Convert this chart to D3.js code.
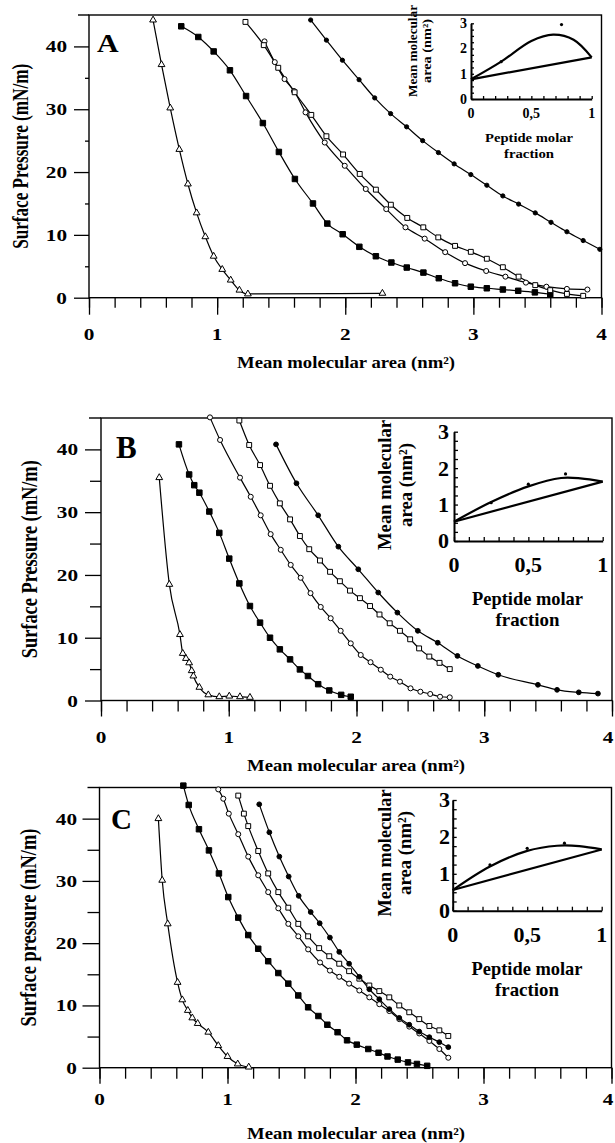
<!DOCTYPE html>
<html>
<head>
<meta charset="utf-8">
<script src="https://cdn.jsdelivr.net/npm/d3@7"></script>
<style>
  body { margin: 0; background: #fff; }
  svg { display: block; }
  text { font-family: "Liberation Serif", "Times New Roman", serif; fill: #000; }
</style>
</head>
<body>
<svg id="fig" width="615" height="1143"></svg>
<script>
// ---- data: [mean molecular area (nm2), surface pressure (mN/m)]
// panel A
const A_tri = [[0.50,44.2],[0.566,37.1],[0.634,30.2],[0.705,23.6],[0.772,18.1],[0.84,13.5],[0.908,9.7],[0.973,6.6],[1.04,4.5],[1.106,2.8],[1.174,1.2],[1.24,0.6],[2.29,0.7]];
const A_fsq = [[0.72,43.2],[0.853,41.5],[0.973,39.2],[1.10,36.2],[1.226,32.1],[1.357,27.8],[1.482,23.2],[1.607,18.9],[1.748,15.0],[1.86,11.8],[1.98,10.1],[2.11,8.1],[2.239,6.6],[2.36,5.6],[2.48,4.8],[2.61,4.0],[2.73,3.1],[2.857,2.3],[2.98,1.75],[3.105,1.5],[3.23,1.3],[3.35,1.1],[3.48,0.85],[3.6,0.55]];
const A_oci = [[1.37,40.8],[1.45,37.5],[1.526,34.8],[1.60,32.9],[1.69,29.5],[1.84,24.7],[1.996,21.0],[2.16,17.3],[2.32,14.1],[2.47,11.2],[2.62,9.4],[2.78,7.25],[2.935,5.5],[3.1,4.25],[3.25,3.35],[3.41,2.4],[3.57,1.75],[3.73,1.4],[3.89,1.3]];
const A_osq = [[1.221,43.9],[1.364,40.2],[1.477,36.6],[1.605,32.7],[1.735,29.1],[1.853,25.7],[1.983,22.8],[2.113,19.7],[2.239,17.2],[2.356,14.8],[2.484,12.7],[2.609,11.2],[2.726,9.6],[2.857,8.25],[2.98,7.3],[3.105,6.2],[3.23,4.85],[3.353,3.35],[3.483,2.0],[3.6,1.2],[3.73,0.6],[3.857,0.3]];
const A_fci = [[1.73,44.2],[1.853,41.0],[1.978,37.8],[2.108,34.7],[2.23,31.8],[2.354,29.3],[2.479,27.2],[2.604,25.0],[2.727,23.1],[2.85,21.3],[2.98,19.6],[3.105,17.9],[3.23,16.2],[3.353,14.9],[3.483,13.5],[3.606,12.0],[3.73,10.5],[3.857,9.1],[3.987,7.7]];

// panel B
const B_tri = [[0.456,35.5],[0.535,18.5],[0.618,10.5],[0.64,7.5],[0.665,6.7],[0.69,6.0],[0.71,4.75],[0.723,3.9],[0.77,2.1],[0.84,0.9],[0.926,0.6],[1.004,0.7],[1.088,0.6],[1.166,0.5]];
const B_fsq = [[0.61,40.8],[0.69,36.0],[0.73,34.3],[0.77,33.1],[0.848,30.1],[0.926,26.7],[1.004,22.6],[1.083,18.65],[1.166,15.05],[1.245,12.4],[1.323,10.0],[1.40,8.15],[1.48,6.55],[1.557,4.95],[1.62,3.9],[1.70,2.6],[1.787,1.6],[1.88,0.9],[1.955,0.6]];
const B_oci = [[0.853,45.1],[0.932,41.5],[1.088,35.5],[1.172,32.45],[1.25,29.5],[1.328,26.5],[1.407,24.0],[1.485,21.6],[1.563,19.55],[1.64,17.1],[1.72,14.9],[1.798,13.1],[1.876,11.1],[1.955,9.1],[2.033,7.25],[2.11,6.1],[2.19,4.9],[2.264,3.8],[2.34,3.0],[2.423,1.94],[2.5,1.4],[2.577,1.04],[2.654,0.6],[2.73,0.5]];
const B_osq = [[1.083,44.6],[1.16,40.7],[1.245,37.5],[1.323,34.2],[1.40,31.4],[1.48,28.85],[1.557,26.2],[1.63,24.1],[1.714,22.3],[1.793,20.5],[1.87,19.0],[1.949,17.5],[2.027,16.3],[2.106,15.05],[2.18,13.7],[2.26,12.3],[2.34,11.1],[2.42,9.75],[2.49,8.3],[2.57,7.0],[2.65,6.0],[2.73,5.0]];
const B_fci = [[1.37,40.8],[1.53,34.6],[1.70,29.5],[1.858,24.5],[2.014,20.9],[2.17,17.2],[2.32,14.0],[2.48,11.1],[2.636,9.2],[2.79,7.1],[2.95,5.5],[3.11,4.1],[3.42,2.5],[3.57,1.7],[3.74,1.3],[3.89,1.1]];

// panel C
const C_tri = [[0.46,40.0],[0.49,30.1],[0.533,23.1],[0.61,13.7],[0.647,10.9],[0.69,9.2],[0.725,8.0],[0.767,7.1],[0.85,5.7],[0.928,3.55],[1.0,1.8],[1.08,0.6],[1.166,0.1]];
const C_fsq = [[0.655,45.3],[0.697,42.2],[0.777,38.3],[0.855,34.9],[0.933,31.2],[1.006,27.4],[1.084,24.1],[1.162,21.3],[1.24,19.1],[1.318,17.1],[1.397,15.2],[1.475,13.5],[1.553,11.6],[1.63,9.7],[1.71,8.3],[1.78,6.9],[1.86,5.7],[1.934,4.4],[2.01,3.7],[2.10,3.0],[2.18,2.4],[2.25,1.8],[2.33,1.3],[2.41,0.85],[2.48,0.6],[2.56,0.3]];
const C_oci = [[0.928,44.7],[0.967,43.2],[1.01,40.8],[1.084,37.5],[1.162,33.9],[1.24,30.9],[1.318,28.2],[1.397,25.6],[1.475,23.1],[1.553,21.1],[1.63,19.0],[1.723,16.9],[1.8,15.6],[1.873,14.6],[1.95,13.5],[2.03,12.4],[2.108,11.3],[2.186,10.2],[2.264,9.1],[2.342,7.8],[2.42,6.6],[2.498,5.5],[2.577,4.3],[2.655,3.0],[2.725,1.6]];
const C_osq = [[1.084,43.7],[1.128,40.8],[1.162,38.8],[1.24,34.8],[1.318,31.2],[1.397,28.2],[1.475,25.7],[1.553,23.1],[1.63,21.1],[1.716,19.2],[1.795,17.9],[1.873,16.7],[1.95,15.5],[2.03,14.3],[2.108,13.2],[2.186,12.3],[2.264,11.3],[2.342,10.0],[2.42,8.9],[2.498,7.8],[2.577,6.7],[2.655,6.0],[2.725,5.1]];
const C_fci = [[1.248,42.3],[1.327,37.8],[1.405,33.9],[1.478,30.7],[1.556,27.6],[1.65,25.0],[1.72,23.2],[1.8,20.9],[1.873,18.6],[1.95,16.7],[2.03,14.6],[2.108,12.6],[2.186,11.0],[2.264,9.4],[2.342,8.0],[2.42,6.9],[2.498,5.8],[2.577,4.9],[2.655,4.1],[2.725,3.3]];

// insets: [peptide molar fraction, mean molecular area (nm2)]
const insA_exp = [[0,0.78],[0.25,1.48],[0.5,2.3],[0.68,2.55],[0.85,2.35],[1,1.65]];
const insA_ideal = [[0,0.78],[1,1.65]];
const insA_dots = [[0.25,1.48],[0.75,2.95]];
const insB_exp = [[0,0.53],[0.25,1.07],[0.5,1.5],[0.72,1.73],[0.85,1.72],[1,1.63]];
const insB_ideal = [[0,0.53],[1,1.63]];
const insB_dots = [[0.25,1.05],[0.5,1.56],[0.75,1.84]];
const insC_exp = [[0,0.56],[0.25,1.2],[0.5,1.62],[0.7,1.76],[0.85,1.75],[1,1.66]];
const insC_ideal = [[0,0.56],[1,1.66]];
const insC_dots = [[0.25,1.24],[0.5,1.69],[0.75,1.83]];

// tick labels
const xTickVals = [0, 1, 2, 3, 4];
const yTickVals = [0, 10, 20, 30, 40];
const insXTicks = [0, 0.5, 1];
const insXLabels = ["0", "0,5", "1"];
const insYTicks = [0, 1, 2, 3];

const svg = d3.select("#fig");
const W = 615;

function addText(g, s, x, y, o) {
  o = o || {};
  var tf = "translate(" + x + "," + y + ")";
  if (o.rot) tf += " rotate(-90)";
  if (o.sx || o.sy) tf += " scale(" + (o.sx || 1) + "," + (o.sy || 1) + ")";
  var t = g.append("text")
    .attr("transform", tf)
    .attr("text-anchor", o.anchor || "middle")
    .attr("font-size", o.size || 17)
    .attr("font-weight", o.weight || "bold")
    .text(s);
  if (o.len) t.attr("textLength", o.len).attr("lengthAdjust", "spacingAndGlyphs");
  return t;
}

const shapes = { tri: d3.symbolTriangle, sq: d3.symbolSquare, ci: d3.symbolCircle };

function drawPanel(p, series) {
  var x = d3.scaleLinear().domain([0, 4]).range([p.left, p.right]);
  var y = d3.scaleLinear().domain([0, 45]).range([p.bottom, p.top]);
  var g = svg.append("g");

  // frame
  g.append("rect").attr("x", p.left).attr("y", p.top)
    .attr("width", p.right - p.left).attr("height", p.bottom - p.top)
    .attr("fill", "none").attr("stroke", "#000").attr("stroke-width", 1.4);
  g.append("line").attr("x1", p.left - p.topExt).attr("x2", p.left)
    .attr("y1", p.top).attr("y2", p.top).attr("stroke", "#000").attr("stroke-width", 1.4);

  // x ticks
  g.append("g").attr("transform", "translate(0," + p.bottom + ")").attr("stroke-width", 1.3)
    .call(d3.axisBottom(x).tickValues(d3.range(0, 4.01, 0.2)).tickSize(p.xMinor).tickSizeOuter(0).tickFormat(""));
  g.append("g").attr("transform", "translate(0," + p.bottom + ")").attr("stroke-width", 1.3)
    .call(d3.axisBottom(x).tickValues(xTickVals).tickSize(p.xMajor).tickSizeOuter(0).tickFormat(""));
  // y ticks
  g.append("g").attr("transform", "translate(" + p.left + ",0)").attr("stroke-width", 1.3)
    .call(d3.axisLeft(y).tickValues([5, 15, 25, 35]).tickSize(p.yMinor).tickSizeOuter(0).tickFormat(""));
  g.append("g").attr("transform", "translate(" + p.left + ",0)").attr("stroke-width", 1.3)
    .call(d3.axisLeft(y).tickValues(yTickVals).tickSize(p.yMajor).tickSizeOuter(0).tickFormat(""));
  g.selectAll(".domain").remove();

  xTickVals.forEach(function (v) {
    // the last label sits on the page edge; keep it inside
    addText(g, String(v), Math.min(x(v), W - 7), p.xLabY, { size: 17, sx: 1.25 });
  });
  yTickVals.forEach(function (v) {
    addText(g, String(v), p.yLabX, y(v) + 6, { size: 17, sx: 1.25, anchor: "end" });
  });

  addText(g, "Mean molecular area (nm²)", p.xTitleX, p.xTitleY, { size: 16, len: 218 });
  addText(g, p.yTitle, p.yTitleX, (p.top + p.bottom) / 2, { rot: true, size: 17, sy: 1.3, len: p.yTitleLen });
  addText(g, p.letter, p.letterX, p.letterY, { size: p.letterSize, anchor: "start", sx: p.letterSx || 1 });

  var line = d3.line().x(function (d) { return x(d[0]); }).y(function (d) { return y(d[1]); })
    .curve(d3.curveMonotoneX);
  series.forEach(function (s) {
    g.append("path").attr("d", line(s.data)).attr("fill", "none")
      .attr("stroke", "#000").attr("stroke-width", 1.2);
  });
  series.forEach(function (s) {
    g.append("g").selectAll("path").data(s.data).join("path")
      .attr("transform", function (d) { return "translate(" + x(d[0]) + "," + y(d[1]) + ")"; })
      .attr("d", d3.symbol(shapes[s.shape], s.size))
      .attr("fill", s.filled ? "#000" : "#fff")
      .attr("stroke", "#000").attr("stroke-width", 1);
  });
}

function drawInset(p, exp, ideal, dots) {
  var x = d3.scaleLinear().domain([0, 1]).range([p.x0, p.x1]);
  var y = d3.scaleLinear().domain([0, 3]).range([p.y0, p.y3]);
  var g = svg.append("g");

  g.append("g").attr("transform", "translate(0," + p.y0 + ")").attr("stroke-width", 1.3)
    .call(d3.axisBottom(x).tickValues(d3.range(0, 1.001, 0.1)).tickSize(-p.tick).tickSizeOuter(0).tickFormat(""));
  g.append("g").attr("transform", "translate(" + p.x0 + ",0)").attr("stroke-width", 1.3)
    .call(d3.axisLeft(y).tickValues(d3.range(0, 3.001, 0.25)).tickSize(-p.tick).tickSizeOuter(0).tickFormat(""));
  g.selectAll(".domain").attr("stroke-width", 2);

  var line = d3.line().x(function (d) { return x(d[0]); }).y(function (d) { return y(d[1]); });
  g.append("path").attr("d", line.curve(d3.curveCatmullRom.alpha(0.5))(exp))
    .attr("fill", "none").attr("stroke", "#000").attr("stroke-width", 2.2);
  g.append("path").attr("d", line.curve(d3.curveLinear)(ideal))
    .attr("fill", "none").attr("stroke", "#000").attr("stroke-width", 2.2);
  g.selectAll("circle").data(dots).join("circle")
    .attr("cx", function (d) { return x(d[0]); }).attr("cy", function (d) { return y(d[1]); })
    .attr("r", 1.6).attr("fill", "#000");

  insXTicks.forEach(function (v, i) {
    addText(g, insXLabels[i], x(v), p.xLabY, { size: p.tickSize });
  });
  insYTicks.forEach(function (v) {
    addText(g, String(v), p.yLabX, y(v) + p.tickSize * 0.34, { size: p.tickSize, anchor: "end" });
  });
  addText(g, "Peptide molar", p.titleCx, p.pepY, { size: p.titleSize, len: p.pepLen });
  addText(g, "fraction", p.titleCx, p.fracY, { size: p.titleSize, len: p.fracLen });
  addText(g, "Mean molecular", p.mmX, p.yCenter, { rot: true, size: p.titleSize, len: p.mmLen });
  addText(g, "area (nm²)", p.arX, p.yCenter, { rot: true, size: p.titleSize, len: p.arLen });
}

drawPanel({
  left: 89, right: 601.5, top: 15, bottom: 297.7,
  xMajor: 17, xMinor: 10, yMajor: 15, yMinor: 4, topExt: 11,
  xLabY: 340, yLabX: 67, xTitleX: 346, xTitleY: 368,
  yTitle: "Surface Pressure (mN/m)", yTitleX: 28, yTitleLen: 185,
  letter: "A", letterX: 97, letterY: 52, letterSize: 26, letterSx: 1.15
}, [
  { data: A_tri, shape: "tri", filled: false, size: 20 },
  { data: A_fsq, shape: "sq", filled: true, size: 30 },
  { data: A_oci, shape: "ci", filled: false, size: 20 },
  { data: A_osq, shape: "sq", filled: false, size: 24 },
  { data: A_fci, shape: "ci", filled: true, size: 14 }
]);

drawPanel({
  left: 101, right: 612, top: 418, bottom: 700.5,
  xMajor: 16, xMinor: 11, yMajor: 16, yMinor: 11, topExt: 12,
  xLabY: 743, yLabX: 78, xTitleX: 356, xTitleY: 771,
  yTitle: "Surface Pressure (mN/m)", yTitleX: 37, yTitleLen: 198,
  letter: "B", letterX: 116, letterY: 458, letterSize: 31
}, [
  { data: B_tri, shape: "tri", filled: false, size: 20 },
  { data: B_fsq, shape: "sq", filled: true, size: 30 },
  { data: B_oci, shape: "ci", filled: false, size: 20 },
  { data: B_osq, shape: "sq", filled: false, size: 24 },
  { data: B_fci, shape: "ci", filled: true, size: 18 }
]);

drawPanel({
  left: 99.5, right: 611.5, top: 787.5, bottom: 1067.7,
  xMajor: 16, xMinor: 11, yMajor: 17, yMinor: 12, topExt: 12,
  xLabY: 1105, yLabX: 77, xTitleX: 356, xTitleY: 1139,
  yTitle: "Surface pressure (mN/m)", yTitleX: 36, yTitleLen: 198,
  letter: "C", letterX: 111, letterY: 829, letterSize: 29
}, [
  { data: C_tri, shape: "tri", filled: false, size: 20 },
  { data: C_fsq, shape: "sq", filled: true, size: 30 },
  { data: C_oci, shape: "ci", filled: false, size: 20 },
  { data: C_osq, shape: "sq", filled: false, size: 24 },
  { data: C_fci, shape: "ci", filled: true, size: 18 }
]);

drawInset({
  x0: 471, x1: 591.7, y0: 99, y3: 23.3, tick: 3,
  tickSize: 14, xLabY: 118, yLabX: 467,
  titleSize: 12, titleCx: 529, pepY: 142, pepLen: 88, fracY: 158, fracLen: 50,
  mmX: 417, arX: 431, yCenter: 51, mmLen: 92, arLen: 64
}, insA_exp, insA_ideal, insA_dots);

drawInset({
  x0: 454, x1: 602.7, y0: 541, y3: 431.7, tick: 4,
  tickSize: 22, xLabY: 571.5, yLabX: 449,
  titleSize: 19, titleCx: 527.5, pepY: 605, pepLen: 111, fracY: 626, fracLen: 64,
  mmX: 391, arX: 412, yCenter: 485, mmLen: 130, arLen: 84
}, insB_exp, insB_ideal, insB_dots);

drawInset({
  x0: 452.7, x1: 601.7, y0: 910.7, y3: 800, tick: 4,
  tickSize: 22, xLabY: 941.5, yLabX: 450,
  titleSize: 19, titleCx: 527, pepY: 975, pepLen: 111, fracY: 996, fracLen: 64,
  mmX: 391, arX: 411, yCenter: 853, mmLen: 127, arLen: 84
}, insC_exp, insC_ideal, insC_dots);
</script>
</body>
</html>
